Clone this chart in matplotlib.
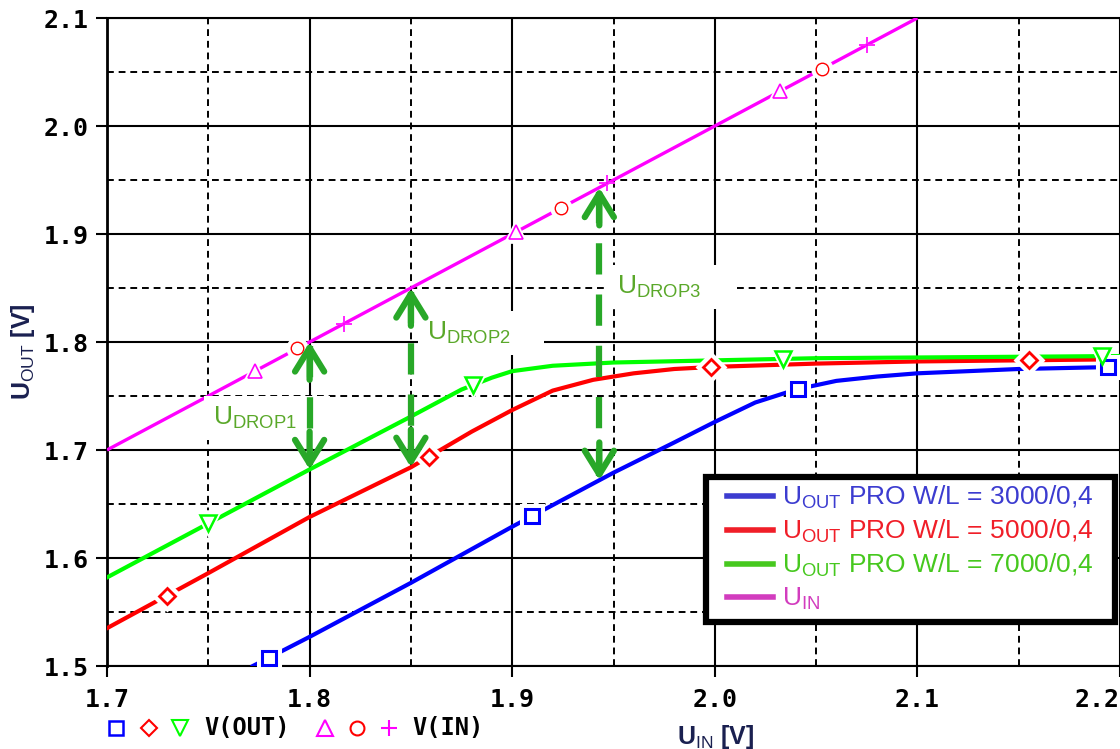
import numpy as np
import matplotlib
matplotlib.use('Agg')
import matplotlib.pyplot as plt
from matplotlib.lines import Line2D
from matplotlib.patches import Rectangle

plt.rcParams['mathtext.fontset'] = 'custom'
plt.rcParams['mathtext.rm'] = 'Liberation Sans'
plt.rcParams['mathtext.bf'] = 'Liberation Sans:bold'
plt.rcParams['mathtext.it'] = 'Liberation Sans'

# ---------------- data ----------------
uin_x = [1.70, 2.10]
uin_y = [1.70, 2.10]

w3000_x = [1.772, 1.80, 1.85, 1.90, 1.95, 1.98, 2.00, 2.02, 2.04, 2.06, 2.08, 2.10, 2.15, 2.20]
w3000_y = [1.500, 1.527, 1.577, 1.629, 1.679, 1.707, 1.726, 1.744, 1.756, 1.764, 1.768, 1.771, 1.775, 1.777]

w5000_x = [1.70, 1.75, 1.80, 1.85, 1.88, 1.90, 1.92, 1.94, 1.96, 1.98, 2.00, 2.05, 2.10, 2.20]
w5000_y = [1.535, 1.586, 1.638, 1.684, 1.717, 1.737, 1.755, 1.765, 1.771, 1.775, 1.777, 1.780, 1.782, 1.784]

w7000_x = [1.70, 1.75, 1.80, 1.85, 1.875, 1.89, 1.90, 1.92, 1.95, 2.00, 2.05, 2.20]
w7000_y = [1.582, 1.632, 1.682, 1.731, 1.756, 1.767, 1.773, 1.778, 1.781, 1.783, 1.785, 1.787]

# marker positions (x) on each trace
m3000_x = [1.780, 1.910, 2.041, 2.194]
m5000_x = [1.7296, 1.859, 1.998, 2.155]
m7000_x = [1.750, 1.8806, 2.0337, 2.191]
min_tri_x = [1.773, 1.902, 2.032]
min_circ_x = [1.794, 1.924, 2.053]
min_plus_x = [1.817, 1.947, 2.075]

# voltage-drop arrows: x position, and which trace they end on
drop_x = [1.80, 1.85, 1.943]
drop_labels = ['DROP1', 'DROP2', 'DROP3']
drop_label_pos = [(1.7523, 1.7296), (1.858, 1.8083), (1.9517, 1.851)]

legend_labels = [r'U$_{\mathrm{OUT}}$ PRO W/L = 3000/0,4',
                 r'U$_{\mathrm{OUT}}$ PRO W/L = 5000/0,4',
                 r'U$_{\mathrm{OUT}}$ PRO W/L = 7000/0,4',
                 r'U$_{\mathrm{IN}}$']
legend_colors = ['#3c3cd0', '#f01e28', '#46c81e', '#d23cbe']

xticks = [1.7, 1.8, 1.9, 2.0, 2.1, 2.2]
xticklabels = ['1.7', '1.8', '1.9', '2.0', '2.1', '2.2']
yticks = [1.5, 1.6, 1.7, 1.8, 1.9, 2.0, 2.1]
yticklabels = ['1.5', '1.6', '1.7', '1.8', '1.9', '2.0', '2.1']

BLUE, RED, GREEN, MAG = '#0000ff', '#ff0000', '#00ff00', '#ff00ff'
ARROW = '#28a828'
LBL = '#5aa82a'

W, H = 1120, 749

# ---------------- figure ----------------
fig = plt.figure(figsize=(11.2, 7.49), dpi=100)
ax = fig.add_axes([107/W, 83/H, 1013/W, 648/H])
ax.set_xlim(1.7, 2.2)
ax.set_ylim(1.5, 2.1)

ax.set_xticks(xticks)
ax.set_xticklabels(xticklabels)
ax.set_yticks(yticks)
ax.set_yticklabels(yticklabels)
ax.set_xticks(np.arange(1.75, 2.2, 0.1), minor=True)
ax.set_yticks(np.arange(1.55, 2.1, 0.1), minor=True)
ax.grid(which='major', color='black', lw=1.5, ls='-')
ax.grid(which='minor', color='black', lw=1.4, ls=(0, (3.5, 2.5)))
ax.set_axisbelow(True)
ax.tick_params(which='major', direction='out', length=8, width=1.5, pad=5)
ax.tick_params(which='minor', length=0)
for lab in ax.get_xticklabels() + ax.get_yticklabels():
    lab.set_fontfamily('DejaVu Sans Mono')
    lab.set_fontweight('bold')
    lab.set_fontsize(18)
ax.get_xticklabels()[-1].set_horizontalalignment('right')
ax.tick_params(axis='x', pad=8)
ax.spines['right'].set_visible(False)
ax.spines['left'].set_linewidth(2)
ax.spines['top'].set_linewidth(1.5)
ax.spines['bottom'].set_linewidth(1.5)

# traces
ax.plot(uin_x, uin_y, color=MAG, lw=2.4, zorder=3, solid_capstyle='butt')
ax.plot(w3000_x, w3000_y, color=BLUE, lw=3.0, zorder=3)
ax.plot(w5000_x, w5000_y, color=RED, lw=3.0, zorder=3)
ax.plot(w7000_x, w7000_y, color=GREEN, lw=3.0, zorder=3)

def markers(xs, ys_src_x, ys_src_y, marker, color, ms, mew):
    ys = np.interp(xs, ys_src_x, ys_src_y)
    ax.plot(xs, ys, ls='none', marker=marker, ms=ms + 6, mfc='white',
            mec='white', mew=mew, zorder=4, clip_on=False)
    ax.plot(xs, ys, ls='none', marker=marker, ms=ms, mfc='white',
            mec=color, mew=mew, zorder=5, clip_on=False)

markers(m3000_x, w3000_x, w3000_y, 's', BLUE, 10, 2.2)
markers(m5000_x, w5000_x, w5000_y, 'D', RED, 8, 2.0)
markers(m7000_x, w7000_x, w7000_y, 'v', GREEN, 11, 1.8)
markers(min_tri_x, uin_x, uin_y, '^', MAG, 10, 1.2)
markers(min_circ_x, uin_x, uin_y, 'o', RED, 9, 1.0)
markers(min_plus_x, uin_x, uin_y, '+', MAG, 11, 1.2)

# drop arrows
ends = [np.interp(drop_x[0], w7000_x, w7000_y),
        np.interp(drop_x[1], w5000_x, w5000_y),
        np.interp(drop_x[2], w3000_x, w3000_y)]
for xd, yb in zip(drop_x, ends):
    yt = xd
    ax.plot([xd, xd], [yt - 0.004, yb + 0.004], color=ARROW, lw=4.5,
            ls=(0, (5, 3.2)), zorder=6, solid_capstyle='butt')
    for ystart, yend in [(yt - 0.035, yt), (yb + 0.035, yb)]:
        ax.annotate('', xy=(xd, yend), xytext=(xd, ystart),
                    arrowprops=dict(arrowstyle='->,head_length=1.7,head_width=1.05',
                                    color=ARROW, lw=4.5, shrinkA=0, shrinkB=0),
                    zorder=7)

for lab, (lx, ly) in zip(drop_labels, drop_label_pos):
    ax.text(lx, ly, r'U$_{\mathrm{%s}}$    ' % lab, fontsize=19, color=LBL,
            fontfamily='Liberation Sans', va='center', ha='left', zorder=5,
            bbox=dict(facecolor='white', edgecolor='none', boxstyle='square,pad=0.35'))

# legend box (drawn as a framed white panel) and legend entries
box = Rectangle((706/W, 1 - 622/H), (1115 - 706)/W, (622 - 477)/H,
                transform=fig.transFigure, facecolor='white', edgecolor='black',
                lw=4.5, zorder=9)
fig.add_artist(box)
handles = [Line2D([], [], color=c, lw=4) for c in legend_colors]
leg = fig.legend(handles, legend_labels, loc='upper left',
                 bbox_to_anchor=(727/W, 1 - 484/H), bbox_transform=fig.transFigure,
                 prop={'family': 'Liberation Sans', 'size': 19}, frameon=False,
                 handlelength=1.75, handletextpad=0.35, labelspacing=0.26,
                 borderpad=0, borderaxespad=0)
leg.set_zorder(10)
for t, c in zip(leg.get_texts(), legend_colors):
    t.set_color(c)

# axis labels
fig.text(23/W, 1 - 352/H, r'U$_{\mathrm{OUT}}$ [V]', rotation=90, fontsize=18,
         fontfamily='Liberation Sans', fontweight='bold', color='#1a2050',
         ha='center', va='center')
fig.text(716/W, 1 - 737/H, r'U$_{\mathrm{IN}}$ [V]', fontsize=18,
         fontfamily='Liberation Sans', fontweight='bold', color='#1a2050',
         ha='center', va='center')

# bottom marker key
key_y = 1 - 728/H
key = [(116, 's', BLUE, 10, 1.8), (149, 'D', RED, 8, 1.5), (180, 'v', GREEN, 11, 1.5),
       (325, '^', MAG, 11, 1.5), (357, 'o', RED, 10, 1.5), (389, '+', MAG, 12, 1.5)]
for kx, mk, col, ms, mew in key:
    fig.add_artist(Line2D([kx/W], [key_y], marker=mk, ms=ms, mfc='white', mec=col,
                          mew=mew, ls='none', transform=fig.transFigure))
fig.text(204/W, key_y, 'V(OUT)', fontfamily='DejaVu Sans Mono', fontweight='bold',
         fontsize=17, va='center', ha='left')
fig.text(412/W, key_y, 'V(IN)', fontfamily='DejaVu Sans Mono', fontweight='bold',
         fontsize=17, va='center', ha='left')

fig.savefig('out.png', dpi=100)
